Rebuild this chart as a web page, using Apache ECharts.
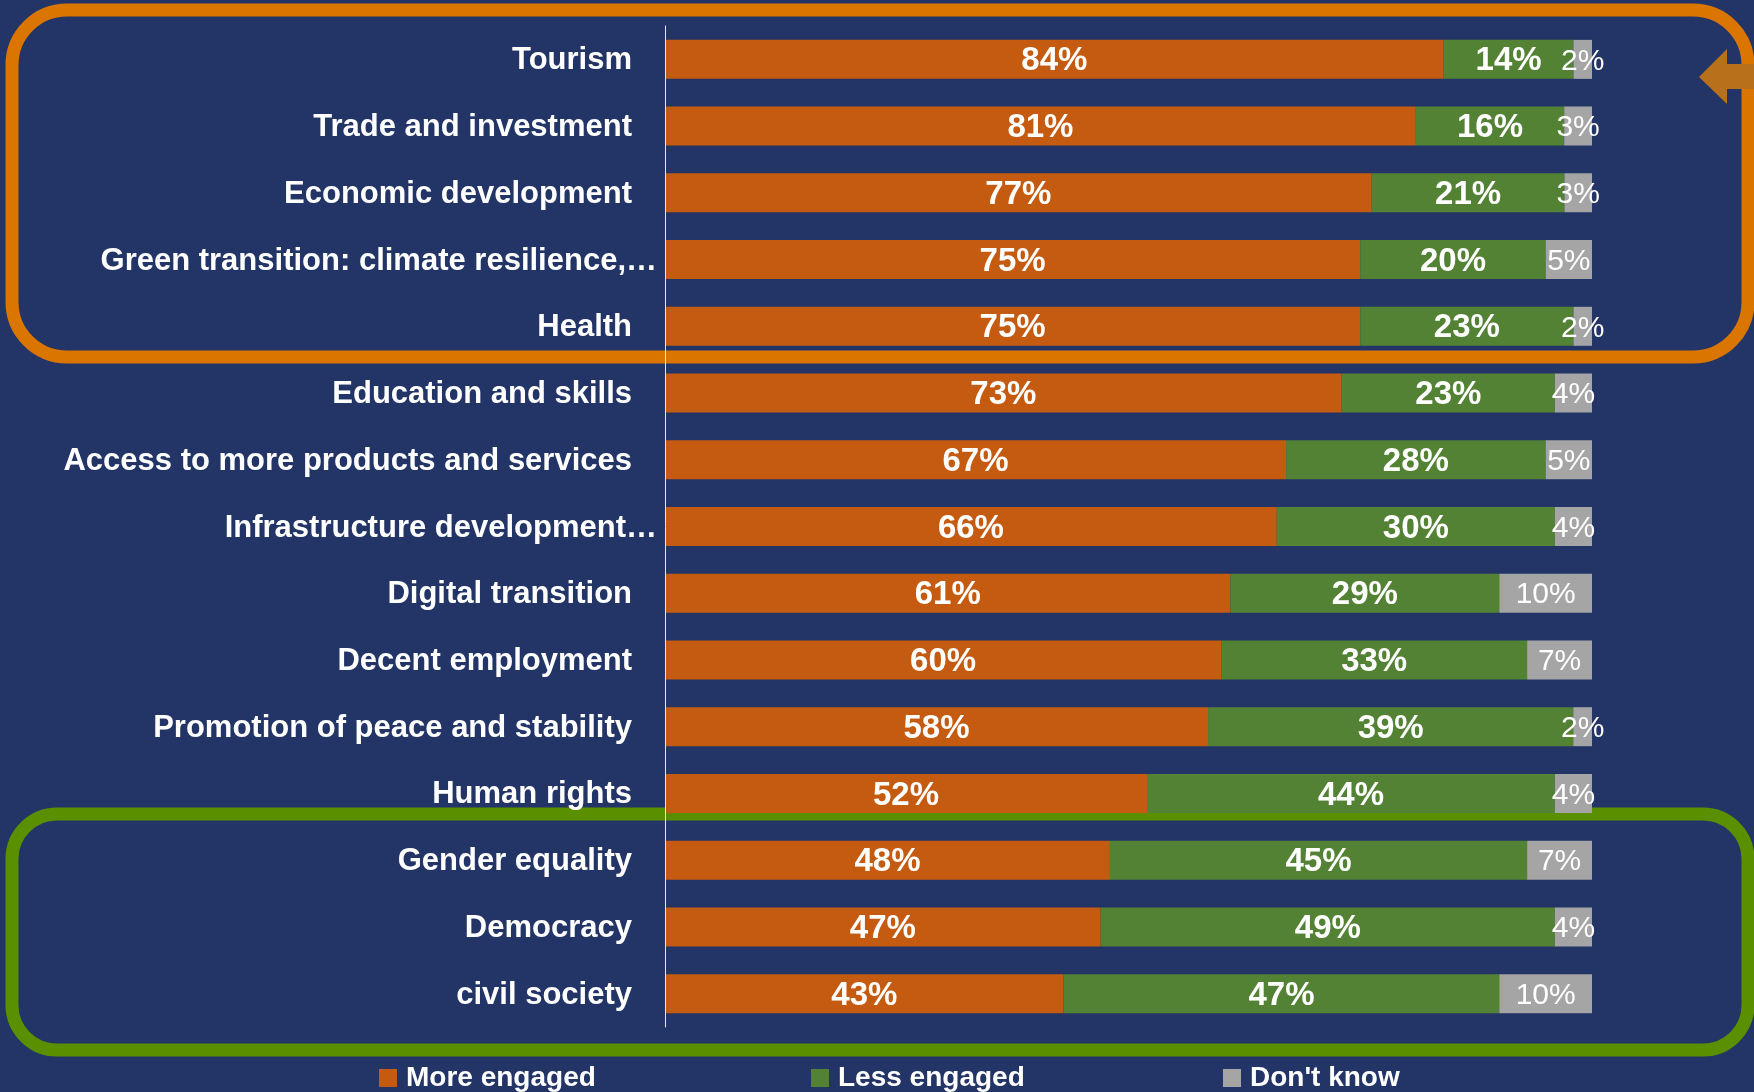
<!DOCTYPE html>
<html>
<head>
<meta charset="utf-8">
<style>
  html, body { margin: 0; padding: 0; background: #223566; }
  #chart { width: 1754px; height: 1092px; }
</style>
<script src="https://cdn.jsdelivr.net/npm/echarts@6/dist/echarts.min.js"></script>
</head>
<body>
<div id="chart"></div>
<script>
const categories = [
  'Tourism',
  'Trade and investment',
  'Economic development',
  'Green transition: climate resilience,…',
  'Health',
  'Education and skills',
  'Access to more products and services',
  'Infrastructure development…',
  'Digital transition',
  'Decent employment',
  'Promotion of peace and stability',
  'Human rights',
  'Gender equality',
  'Democracy',
  'civil society'
];
const moreEngaged = [84, 81, 77, 75, 75, 73, 67, 66, 61, 60, 58, 52, 48, 47, 43];
const lessEngaged = [14, 16, 21, 20, 23, 23, 28, 30, 29, 33, 39, 44, 45, 49, 47];
const dontKnow    = [2, 3, 3, 5, 2, 4, 5, 4, 10, 7, 2, 4, 7, 4, 10];
const seriesNames = ['More engaged', 'Less engaged', "Don't know"];

const FONT = "'Liberation Sans', Arial, sans-serif";
const COLORS = ['#C55A11', '#548235', '#A5A5A5'];

const totals = categories.map((c, i) => moreEngaged[i] + lessEngaged[i] + dontKnow[i]);
function toData(arr) {
  return arr.map((v, i) => ({ value: v / totals[i] * 100, raw: v }));
}

const chart = echarts.init(document.getElementById('chart'), null, { renderer: 'canvas' });

function legendFor(name, left) {
  return {
    data: [name],
    left: left,
    top: 1064,
    itemWidth: 18,
    itemHeight: 18,
    icon: 'rect',
    padding: 0,
    textStyle: { color: '#ffffff', fontFamily: FONT, fontSize: 28, fontWeight: 'bold', padding: [0, 0, 0, 4] },
    selectedMode: false
  };
}

const seriesArrays = [moreEngaged, lessEngaged, dontKnow];

const option = {
  backgroundColor: '#223566',
  animation: false,
  grid: { left: 665, top: 26, width: 927, height: 1001, containLabel: false, outerBoundsMode: 'none' },
  legend: [
    legendFor(seriesNames[0], 379),
    legendFor(seriesNames[1], 811),
    legendFor(seriesNames[2], 1223)
  ],
  xAxis: {
    type: 'value', min: 0, max: 100, show: false
  },
  yAxis: {
    type: 'category',
    data: categories,
    inverse: true,
    z: 5,
    axisLine: { show: true, lineStyle: { color: '#E6E6E6', width: 1 } },
    axisTick: { show: false },
    axisLabel: {
      margin: 8,
      formatter: function (v) {
        return v.endsWith('…') ? '{a|' + v + '}' : '{a|' + v + '}{s|}';
      },
      rich: {
        a: { color: '#ffffff', fontFamily: FONT, fontSize: 31, fontWeight: 'bold', padding: [3, 0, 0, 0] },
        s: { width: 25 }
      }
    }
  },
  series: seriesArrays.map((arr, k) => ({
    name: seriesNames[k],
    type: 'bar',
    stack: 'total',
    barWidth: 39,
    z: 3,
    itemStyle: { color: COLORS[k] },
    label: {
      show: true,
      position: 'inside',
      offset: [0, 2],
      color: '#ffffff',
      fontFamily: FONT,
      fontSize: k === 2 ? 30 : 33,
      fontWeight: k === 2 ? 'normal' : 'bold',
      formatter: function (p) { return p.data.raw + '%'; }
    },
    data: toData(arr)
  })),
  graphic: [
    {
      type: 'rect', z: -10, silent: true,
      shape: { x: 12, y: 10, width: 1736, height: 347, r: 55 },
      style: { fill: 'none', stroke: '#DA7600', lineWidth: 13 }
    },
    {
      type: 'rect', z: -10, silent: true,
      shape: { x: 12, y: 814, width: 1736, height: 236, r: 45 },
      style: { fill: 'none', stroke: '#5A8F00', lineWidth: 13 }
    },
    {
      type: 'polygon', z: -9, silent: true,
      shape: { points: [[1699, 77], [1727, 49], [1727, 64], [1754, 64], [1754, 89], [1727, 89], [1727, 104]] },
      style: { fill: '#B8701A' }
    }
  ]
};

chart.setOption(option);
</script>
</body>
</html>
